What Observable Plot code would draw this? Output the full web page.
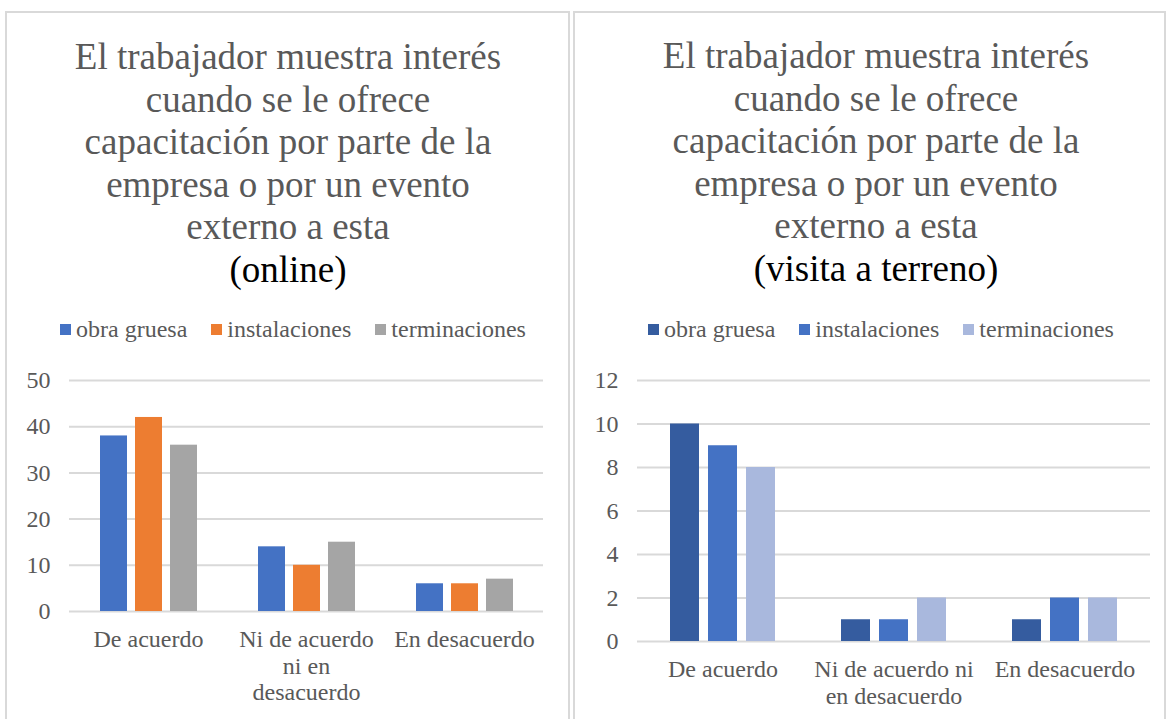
<!DOCTYPE html>
<html>
<head>
<meta charset="utf-8">
<script src="https://cdn.jsdelivr.net/npm/d3@7"></script>
<script src="https://cdn.jsdelivr.net/npm/@observablehq/plot@0.6"></script>
<style>
  html, body { margin: 0; padding: 0; background: #fff; }
  body { width: 1169px; height: 719px; position: relative; overflow: hidden; font-family: "Liberation Serif", "Times New Roman", serif; }
  .panel { position: absolute; top: 11px; height: 760px; border: 2px solid #d9d9d9; box-sizing: border-box; }
  .title { position: absolute; width: 560px; text-align: center; font-size: 37px; line-height: 42.6px; color: #595959; white-space: nowrap; }
  .title .sub { color: #000; }
  .legend { position: absolute; display: flex; justify-content: center; align-items: center; width: 600px; font-size: 24px; line-height: 24px; color: #595959; white-space: nowrap; }
  .legend .item { display: flex; align-items: center; margin: 0 12px; }
  .legend .sw { width: 11px; height: 11px; margin-right: 5px; }
  .chart { position: absolute; top: 360px; }
</style>
</head>
<body>
<div class="panel" style="left:5px; width:565px;"></div>
<div class="panel" style="left:573px; width:593px;"></div>
<div class="title" id="t1" style="left:8px; top:36px;"></div>
<div class="title" id="t2" style="left:596px; top:35px;"></div>
<div class="legend" id="l1" style="left:-7px; top:317px;"></div>
<div class="legend" id="l2" style="left:581px; top:317px;"></div>
<div class="chart" id="c1" style="left:5px;"></div>
<div class="chart" id="c2" style="left:573px;"></div>
<script>
// ---- data ----
const titleLines = ["El trabajador muestra interés", "cuando se le ofrece", "capacitación por parte de la", "empresa o por un evento", "externo a esta"];
const subtitleOnline = "(online)";
const subtitleTerreno = "(visita a terreno)";
const categories = ["De acuerdo", "Ni de acuerdo ni en desacuerdo", "En desacuerdo"];
const seriesNames = ["obra gruesa", "instalaciones", "terminaciones"];
const onlineObra = [38, 14, 6];
const onlineInst = [42, 10, 6];
const onlineTerm = [36, 15, 7];
const terrenoObra = [10, 1, 1];
const terrenoInst = [9, 1, 2];
const terrenoTerm = [8, 2, 2];
const onlineTicks = [0, 10, 20, 30, 40, 50];
const terrenoTicks = [0, 2, 4, 6, 8, 10, 12];
const onlineCatLabels = ["De acuerdo", "Ni de acuerdo\nni en\ndesacuerdo", "En desacuerdo"];
const terrenoCatLabels = ["De acuerdo", "Ni de acuerdo ni\nen desacuerdo", "En desacuerdo"];
const onlineColors = ["#4472C4", "#ED7D31", "#A5A5A5"];
const terrenoColors = ["#355C9F", "#4472C4", "#A9B8DD"];

function rowsFrom(seriesValues) {
  const rows = [];
  categories.forEach((c, i) => {
    seriesNames.forEach((s, j) => rows.push({cat: c, series: s, value: seriesValues[j][i]}));
  });
  return rows;
}

function fillTitle(el, sub) {
  el.innerHTML = "";
  titleLines.forEach(t => { const d = document.createElement("div"); d.textContent = t; el.appendChild(d); });
  const s = document.createElement("div"); s.className = "sub"; s.textContent = sub; el.appendChild(s);
}

function fillLegend(el, colors) {
  seriesNames.forEach((s, i) => {
    const it = document.createElement("div"); it.className = "item";
    const sw = document.createElement("div"); sw.className = "sw"; sw.style.background = colors[i];
    const tx = document.createElement("span"); tx.textContent = s;
    it.appendChild(sw); it.appendChild(tx); el.appendChild(it);
  });
}

function chart({rows, ticks, colors, catLabels, width, marginRight, marginBottom}) {
  return Plot.plot({
    width, height: 359,
    marginLeft: 63, marginRight, marginTop: 20, marginBottom,
    style: {fontFamily: "Liberation Serif", fontSize: "24px", color: "#595959", background: "transparent", overflow: "visible"},
    fx: {domain: categories, padding: 0, label: null, axis: null},
    x: {domain: seriesNames, paddingInner: 0.24, paddingOuter: 0.87, axis: null},
    y: {domain: [0, ticks[ticks.length - 1]], label: null},
    color: {domain: seriesNames, range: colors},
    marks: [
      Plot.gridY(ticks, {stroke: "#d9d9d9", strokeWidth: 2, strokeOpacity: 1}),
      Plot.barY(rows, {fx: "cat", x: "series", y: "value", fill: "series"}),
      Plot.axisY(ticks, {tickSize: 0, tickPadding: 19, label: null}),
      Plot.axisFx({anchor: "bottom", tickSize: 0, tickPadding: 17, lineHeight: 1.1, label: null,
        tickFormat: d => catLabels[categories.indexOf(d)]})
    ]
  });
}

fillTitle(document.getElementById("t1"), subtitleOnline);
fillTitle(document.getElementById("t2"), subtitleTerreno);
fillLegend(document.getElementById("l1"), onlineColors);
fillLegend(document.getElementById("l2"), terrenoColors);

document.getElementById("c1").appendChild(chart({
  rows: rowsFrom([onlineObra, onlineInst, onlineTerm]), ticks: onlineTicks, colors: onlineColors,
  catLabels: onlineCatLabels, width: 564, marginRight: 26, marginBottom: 108
}));
document.getElementById("c2").appendChild(chart({
  rows: rowsFrom([terrenoObra, terrenoInst, terrenoTerm]), ticks: terrenoTicks, colors: terrenoColors,
  catLabels: terrenoCatLabels, width: 592, marginRight: 15, marginBottom: 78
}));
</script>
</body>
</html>
